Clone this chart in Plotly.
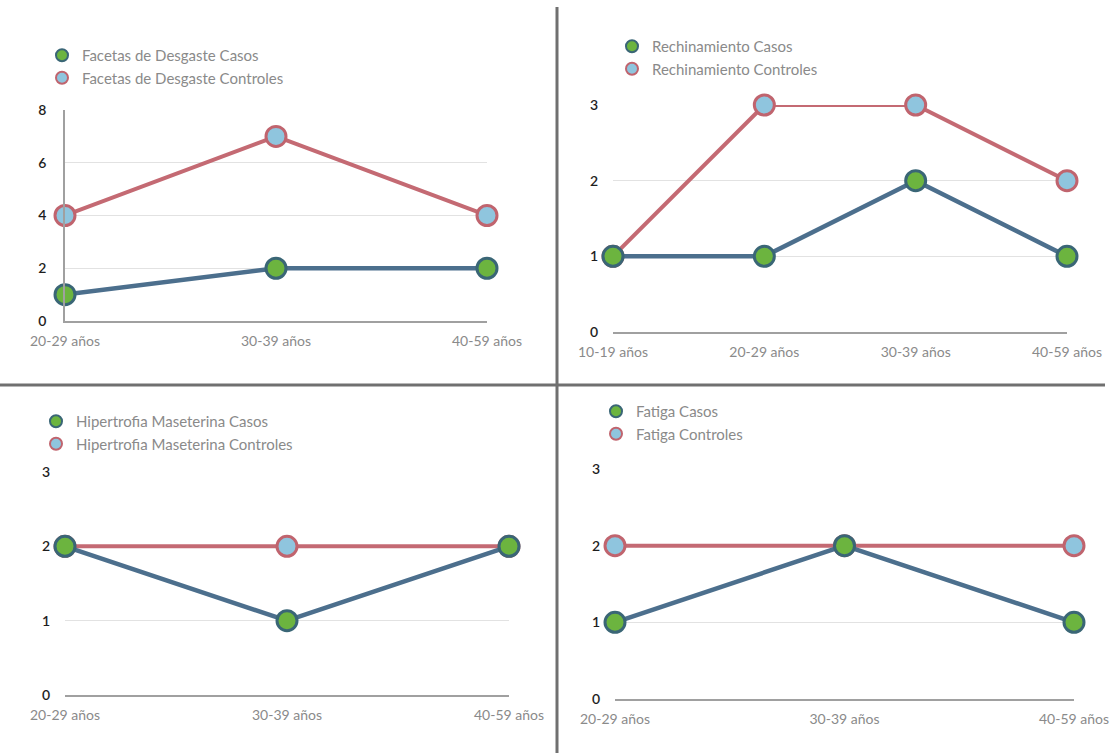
import plotly.graph_objects as go

# --- datos ---
edades_3 = ["20-29 años", "30-39 años", "40-59 años"]
edades_4 = ["10-19 años", "20-29 años", "30-39 años", "40-59 años"]

facetas_casos = [1, 2, 2]
facetas_controles = [4, 7, 4]

rechinamiento_casos = [1, 1, 2, 1]
rechinamiento_controles = [1, 3, 3, 2]

hipertrofia_casos = [2, 1, 2]
hipertrofia_controles = [2, 2, 2]

fatiga_casos = [1, 2, 1]
fatiga_controles = [2, 2, 2]

paneles = [
    # (categorías, casos, controles, nombre, ymax, dtick)
    (edades_3, facetas_casos, facetas_controles, "Facetas de Desgaste", 8, 2),
    (edades_4, rechinamiento_casos, rechinamiento_controles, "Rechinamiento", 3, 1),
    (edades_3, hipertrofia_casos, hipertrofia_controles, "Hipertrofia Maseterina", 3, 1),
    (edades_3, fatiga_casos, fatiga_controles, "Fatiga", 3, 1),
]

# --- estilo ---
W, H = 1112, 753
FONT = "Lato, 'Open Sans', sans-serif"
CASOS_LINE = "#4c6f8d"
CASOS_FILL = "#6cb43f"
CASOS_EDGE = "#3a6676"
CTRL_LINE = "#c46a73"
CTRL_FILL = "#8fc5de"
CTRL_EDGE = "#c0646e"

# posición de cada panel en píxeles: (x izq, x der, y arriba, y abajo)
cajas = [
    (65, 487, 110, 321),
    (613, 1067, 105, 332),
    (65, 509, 472, 695),
    (615, 1074, 469, 699),
]
# esquina superior izquierda de cada leyenda (px)
leyendas = [(42, 39), (612, 30), (36, 405), (596, 395)]

fig = go.Figure()

for i, (cats, casos, ctrl, nombre, ymax, dt) in enumerate(paneles):
    n = i + 1
    xa = "x" if n == 1 else f"x{n}"
    ya = "y" if n == 1 else f"y{n}"
    lg = "legend" if n == 1 else f"legend{n}"

    fig.add_trace(go.Scatter(
        x=cats, y=ctrl, mode="lines+markers", xaxis=xa, yaxis=ya,
        line=dict(color=CTRL_LINE, width=4),
        marker=dict(size=20, color=CTRL_FILL, line=dict(color=CTRL_EDGE, width=3)),
        cliponaxis=False, showlegend=False, hoverinfo="x+y",
    ))
    fig.add_trace(go.Scatter(
        x=cats, y=casos, mode="lines+markers", xaxis=xa, yaxis=ya,
        line=dict(color=CASOS_LINE, width=4.5),
        marker=dict(size=20, color=CASOS_FILL, line=dict(color=CASOS_EDGE, width=3)),
        cliponaxis=False, showlegend=False, hoverinfo="x+y",
    ))
    # entradas de leyenda
    fig.add_trace(go.Scatter(
        x=[None], y=[None], mode="markers", xaxis=xa, yaxis=ya, legend=lg,
        name=f"{nombre} Casos",
        marker=dict(size=10, color=CASOS_FILL, line=dict(color=CASOS_EDGE, width=2.5)),
    ))
    fig.add_trace(go.Scatter(
        x=[None], y=[None], mode="markers", xaxis=xa, yaxis=ya, legend=lg,
        name=f"{nombre} Controles",
        marker=dict(size=10, color=CTRL_FILL, line=dict(color=CTRL_EDGE, width=2.5)),
    ))

    x0, x1, yt, yb = cajas[i]
    xkey = "xaxis" if n == 1 else f"xaxis{n}"
    ykey = "yaxis" if n == 1 else f"yaxis{n}"
    fig.update_layout(**{
        xkey: dict(
            domain=[x0 / W, x1 / W], anchor=ya, type="category",
            range=[0, len(cats) - 1], showgrid=False, zeroline=False,
            showline=True, linecolor="#a0a0a0", linewidth=1.5,
            ticks="", ticklabelstandoff=6, automargin=False,
            tickfont=dict(family=FONT, size=14, color="#8a8a8a"),
            fixedrange=True,
        ),
        ykey: dict(
            domain=[1 - yb / H, 1 - yt / H], anchor=xa,
            range=[0, ymax], dtick=dt, tick0=0,
            showgrid=True, gridcolor="#e2e2e2", gridwidth=1,
            zeroline=False, showline=(n == 1), linecolor="#a0a0a0", linewidth=1.5,
            ticks="", ticklabelstandoff=14, automargin=False,
            tickfont=dict(family=FONT, size=14, color="#1e1e1e", weight=600),
            fixedrange=True,
        ),
        lg: dict(
            x=leyendas[i][0] / W, y=1 - leyendas[i][1] / H,
            xanchor="left", yanchor="top", bgcolor="rgba(0,0,0,0)",
            font=dict(family=FONT, size=15, color="#8a8a8a"),
            itemsizing="constant", itemwidth=30, traceorder="normal",
        ),
    })

# líneas divisorias entre los cuatro gráficos
fig.add_shape(type="line", xref="paper", yref="paper",
              x0=557 / W, x1=557 / W, y0=0, y1=1 - 7 / H,
              line=dict(color="#707070", width=3))
fig.add_shape(type="line", xref="paper", yref="paper",
              x0=0, x1=1105 / W, y0=1 - 385 / H, y1=1 - 385 / H,
              line=dict(color="#707070", width=3))

fig.update_layout(
    width=W, height=H, margin=dict(l=0, r=0, t=0, b=0, autoexpand=False),
    paper_bgcolor="white", plot_bgcolor="white",
    font=dict(family=FONT),
)

fig.write_html("out.html")
